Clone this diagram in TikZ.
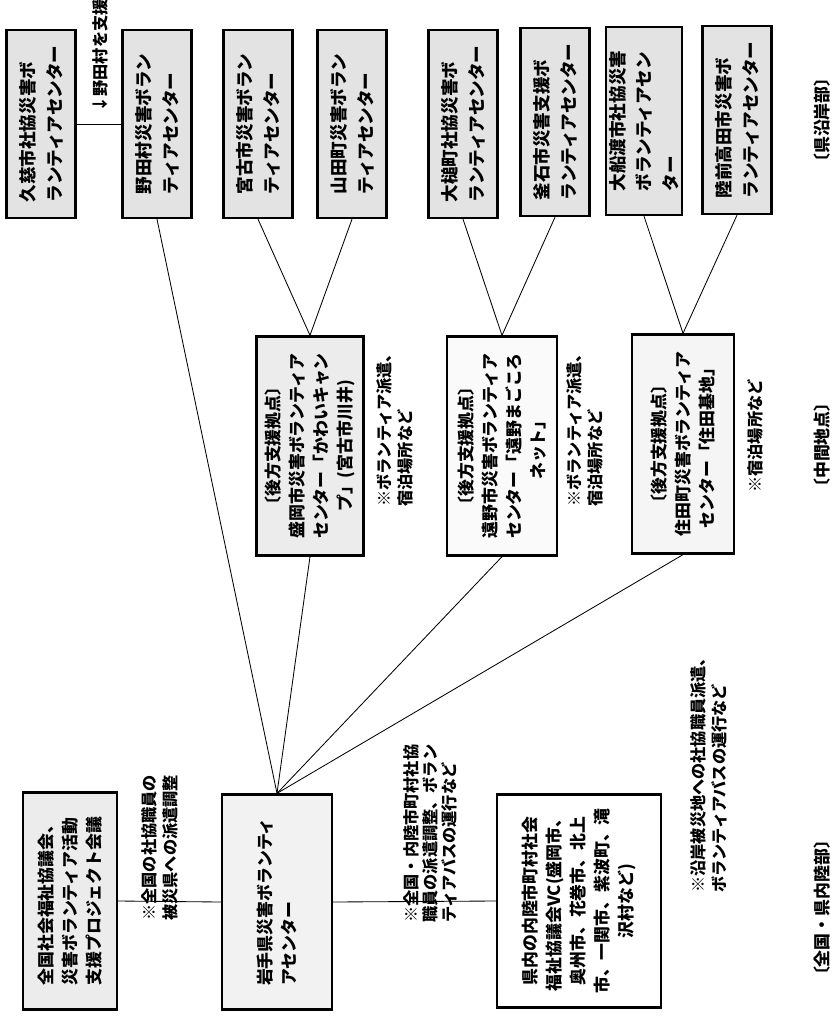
\documentclass[tikz,border=0pt]{standalone}
\usepackage{fontspec}
\setmainfont{Noto Sans CJK JP}
\begin{document}
\begin{tikzpicture}[x=0.025cm, y=-0.025cm, line width=0.6pt,
    box/.style={draw, line width=1.6pt, rotate=90, inner sep=2pt,
      font=\bfseries\fontsize{12pt}{17pt}\selectfont},
    topbox/.style={box, fill=gray!22, align=left, minimum width=4.7cm, minimum height=1.72cm,
      font=\bfseries\fontsize{12.5pt}{19pt}\selectfont},
    basebox/.style={box, align=center, minimum width=5.475cm},
    lowbox/.style={box, align=left},
    note/.style={rotate=90, anchor=west, inner sep=0pt, align=left,
      font=\bfseries\fontsize{11.5pt}{15pt}\selectfont},
    area/.style={rotate=90, inner sep=0pt, font=\bfseries\fontsize{12pt}{14pt}\selectfont}]
  \useasboundingbox (0,0) rectangle (832,1018);

  % coastal centers
  \node[topbox] (kuji)     at (41,124)  {久慈市社協災害ボ\\ランティアセンター};
  \node[topbox] (noda)     at (157,124) {野田村災害ボラン\\ティアセンター};
  \node[topbox] (miyako)   at (258,124) {宮古市災害ボラン\\ティアセンター};
  \node[topbox] (yamada)   at (352,124) {山田町災害ボラン\\ティアセンター};
  \node[topbox] (otsuchi)  at (463,124) {大槌町社協災害ボ\\ランティアセンター};
  \node[topbox] (kamaishi) at (555,122) {釜石市災害支援ボ\\ランティアセンター};
  \node[topbox] (ofunato)  at (644,121) {大船渡市社協災害\\ボランティアセン\\ター};
  \node[topbox] (rikuzen)  at (737,120) {陸前高田市災害ボ\\ランティアセンター};
  \node[note] (nodalabel) at (100,113) {↓野田村を支援};

  % back-up bases
  \node[basebox, fill=gray!15, minimum height=2.675cm] (morioka) at (310,446)
    {〔後方支援拠点〕\\盛岡市災害ボランティア\\センター「かわいキャン\\プ」(宮古市川井)};
  \node[basebox, fill=gray!4, minimum height=2.75cm] (tono) at (502,446)
    {〔後方支援拠点〕\\遠野市災害ボランティア\\センター「遠野まごころ\\ネット」};
  \node[basebox, fill=gray!8, minimum height=2.55cm] (sumita) at (683,444)
    {〔後方支援拠点〕\\住田町災害ボランティア\\センター「住田基地」};
  \node[note] (note4) at (395,507) {※ボランティア派遣、\\宿泊場所など};
  \node[note] (note5) at (585,507) {※ボランティア派遣、\\宿泊場所など};
  \node[note] (note6) at (755,493) {※宿泊場所など};

  % national / inland
  \node[lowbox, fill=gray!15, minimum width=5.425cm, minimum height=2.35cm] (zenkoku) at (70,901)
    {全国社会福祉協議会、\\災害ボランティア活動\\支援プロジェクト会議};
  \node[lowbox, fill=gray!10, minimum width=5.375cm, minimum height=2.75cm] (iwate) at (277,902)
    {岩手県災害ボランティ\\アセンター};
  \node[box, fill=white, align=center, minimum width=5.325cm, minimum height=4.1cm] (kennai) at (579,901)
    {県内の内陸市町村社会\\福祉協議会VC(盛岡市、\\奥州市、花巻市、北上\\市、一関市、紫波町、滝\\沢村など)};
  \node[note] (note1) at (160,921) {※全国の社協職員の\\被災県への派遣調整};
  \node[note, font=\bfseries\fontsize{11.5pt}{13.5pt}\selectfont] (note2) at (430,923)
    {※全国・内陸市町村社協\\職員の派遣調整、ボラン\\ティアバスの運行など};
  \node[note] (note3) at (709,893) {※沿岸被災地への社協職員派遣、\\ボランティアバスの運行など};

  % areas
  \node[area] (coast)  at (822,120) {〔県沿岸部〕};
  \node[area] (middle) at (822,445) {〔中間地点〕};
  \node[area] (inland) at (822,908) {〔全国・県内陸部〕};

  \path (kuji.south) edge (noda.north)
        (miyako.west) edge (morioka.east)
        (yamada.west) edge (morioka.east)
        (otsuchi.west) edge (tono.east)
        (kamaishi.west) edge (tono.east)
        (ofunato.west) edge (sumita.east)
        (rikuzen.west) edge (sumita.east)
        (iwate.east) edge (noda.west)
                     edge (morioka.west)
                     edge (tono.west)
                     edge (sumita.west)
        (zenkoku.south) edge (iwate.north)
        (iwate.south) edge (kennai.north);
\end{tikzpicture}
\end{document}
